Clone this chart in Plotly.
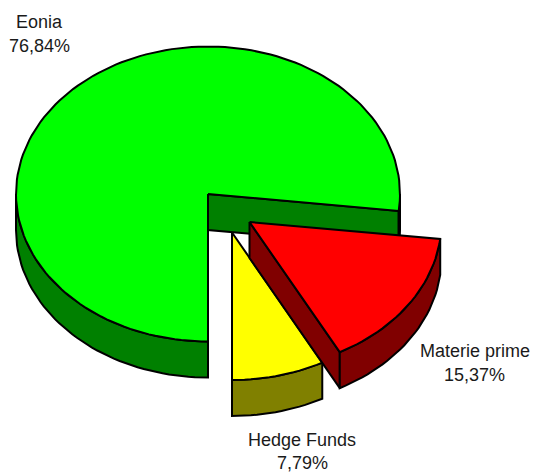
import numpy as np
import plotly.graph_objects as go

categories = ["Eonia", "Materie prime", "Hedge Funds"]
values = [76.84, 15.37, 7.79]
value_labels = ["76,84%", "15,37%", "7,79%"]

# pie geometry (pixel-like axis units)
RX, RY, DEPTH = 192, 147.5, 36
START_DEG = 180  # Eonia starts at six o'clock, clockwise
CENTERS = [(208, 194), (249.5, 222), (232, 232.5)]
TOP = ["#00FF00", "#FF0000", "#FFFF00"]
WALL = ["#008000", "#800000", "#808000"]
LABEL_POS = [(39.5, 22, 46), (474.5, 351, 375), (302, 440, 462.5)]
FONT = dict(family="Liberation Sans, Arial, sans-serif", size=18, color="#1a1a1a")

fractions = np.array(values) / sum(values) * 360
ends = START_DEG + np.cumsum(fractions)
starts = ends - fractions


def rim(c, a0, a1, dz=0.0):
    t = np.radians(np.linspace(a0, a1, max(2, int(abs(a1 - a0) / 2) + 2)))
    return c[0] + RX * np.sin(t), c[1] - RY * np.cos(t) + dz


fig = go.Figure()


def poly(x, y, fill):
    x = np.r_[x, x[0]]
    y = np.r_[y, y[0]]
    fig.add_trace(go.Scatter(x=x, y=y, mode="lines", fill="toself", fillcolor=fill,
                             line=dict(color="black", width=2), hoverinfo="skip", showlegend=False))


def outer_wall(c, a0, a1, color):
    x, y = rim(c, a0, a1)
    xb, yb = rim(c, a1, a0, DEPTH)
    poly(np.r_[x, xb], np.r_[y, yb], color)


def radial_wall(c, a, color):
    x, y = rim(c, a, a)
    poly(np.array([c[0], x[0], x[0], c[0]]), np.array([c[1], y[0], y[0] + DEPTH, c[1] + DEPTH]), color)


def top(c, a0, a1, color):
    x, y = rim(c, a0, a1)
    poly(np.r_[c[0], x], np.r_[c[1], y], color)


# Eonia: walls first, then lid
c = CENTERS[0]
radial_wall(c, ends[0], WALL[0])
outer_wall(c, starts[0], 270, WALL[0])
outer_wall(c, 450, ends[0], WALL[0])
top(c, starts[0], ends[0], TOP[0])

# Hedge Funds
c = CENTERS[2]
outer_wall(c, starts[2], ends[2], WALL[2])
top(c, starts[2], ends[2], TOP[2])

# Materie prime
c = CENTERS[1]
radial_wall(c, ends[1], WALL[1])
outer_wall(c, starts[1], ends[1], WALL[1])
top(c, starts[1], ends[1], TOP[1])

for name, val, (lx, y1, y2) in zip(categories, value_labels, LABEL_POS):
    fig.add_annotation(x=lx, y=y1, text=name, showarrow=False, font=FONT, xanchor="center", yanchor="middle")
    fig.add_annotation(x=lx, y=y2, text=val, showarrow=False, font=FONT, xanchor="center", yanchor="middle")

fig.update_layout(
    width=533, height=473, margin=dict(l=0, r=0, t=0, b=0),
    paper_bgcolor="white", plot_bgcolor="white", showlegend=False,
    xaxis=dict(range=[0, 533], visible=False, fixedrange=True),
    yaxis=dict(range=[473, 0], visible=False, fixedrange=True),
)
fig.write_html("out.html", config={"displayModeBar": False},
               post_script="document.body.style.margin='0';document.body.style.overflow='hidden';")
